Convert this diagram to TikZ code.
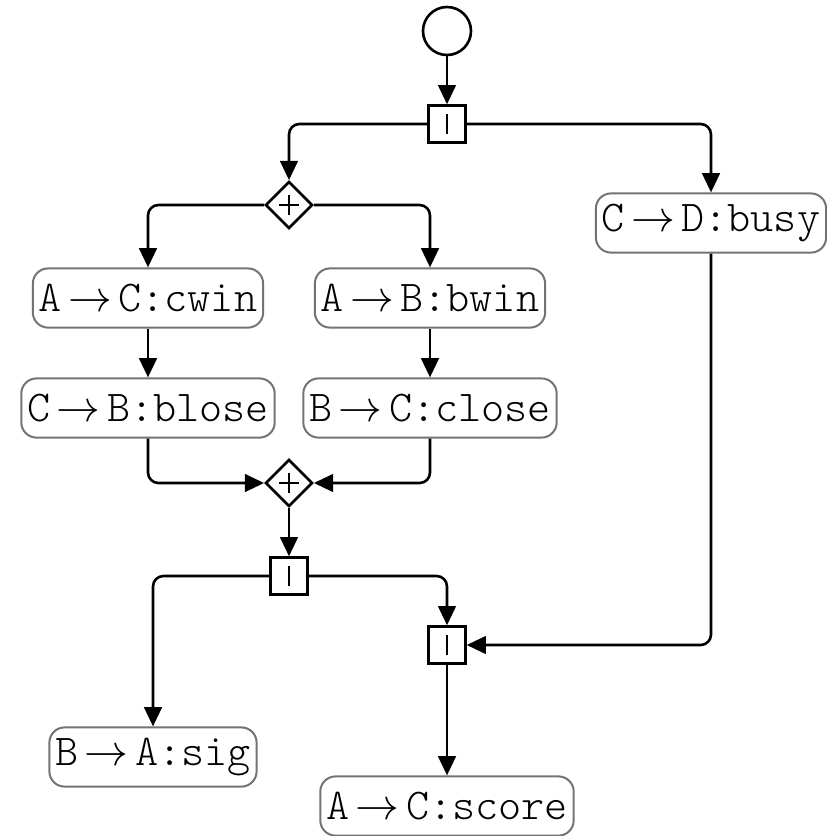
\documentclass[tikz,border=0pt]{standalone}
\usetikzlibrary{arrows.meta}
\usetikzlibrary{shapes.geometric}
\newcommand{\msg}[3]{\texttt{\fontseries{l}\selectfont #1\kern1.6pt\(\rightarrow\)\kern1.6pt#2:#3}}
\begin{document}
\begin{tikzpicture}[x=0.25pt, y=-0.25pt,
  flow/.style={draw=black, line width=0.65pt, rounded corners=2.6pt, arrows={-Triangle[length=4.8pt, width=4.4pt]}},
  act/.style={draw=black!55, line width=0.5pt, rounded corners=3.8pt, fill=white, inner xsep=1.5pt, inner ysep=0pt, minimum height=14.8pt, font=\fontsize{11}{13}\selectfont},
  xgate/.style={draw, line width=0.65pt, minimum size=9.2pt, inner sep=0pt,
    path picture={\draw[line width=0.65pt] ([yshift=-2.6pt]path picture bounding box.center) -- ++(0,5.2pt);}},
  pgate/.style={draw, diamond, line width=0.65pt, minimum width=11.8pt, minimum height=11.8pt, inner sep=0pt,
    path picture={\draw[line width=0.65pt] ([yshift=-2.5pt]path picture bounding box.center) -- ++(0,5pt)
      ([xshift=-2.5pt]path picture bounding box.center) -- ++(5pt,0);}}]
  \useasboundingbox (0,0) rectangle (826,836);
  \node[draw, circle, line width=0.65pt, minimum size=12pt, inner sep=0pt] (start) at (447,31) {};
  \node[xgate] (split) at (447,124) {};
  \node[pgate] (fork) at (289,205) {};
  \node[act] (cwin) at (148,298) {\msg{A}{C}{cwin}};
  \node[act] (bwin) at (430,298) {\msg{A}{B}{bwin}};
  \node[act] (blose) at (148,408) {\msg{C}{B}{blose}};
  \node[act] (close) at (430,408) {\msg{B}{C}{close}};
  \node[pgate] (join) at (289,483) {};
  \node[xgate] (choice) at (289,576) {};
  \node[act] (busy) at (711,223) {\msg{C}{D}{busy}};
  \node[xgate] (merge) at (447,645) {};
  \node[act] (sig) at (153,757) {\msg{B}{A}{sig}};
  \node[act] (score) at (447,806) {\msg{A}{C}{score}};

  \draw[flow] (start) -- (split);
  \draw[flow] (split.west) -| (fork.north);
  \draw[flow] (split.east) -| (busy.north);
  \draw[flow] (fork.west) -| (cwin.north);
  \draw[flow] (fork.east) -| (bwin.north);
  \draw[flow] (cwin) -- (blose);
  \draw[flow] (bwin) -- (close);
  \draw[flow] (blose.south) |- (join.west);
  \draw[flow] (close.south) |- (join.east);
  \draw[flow] (join) -- (choice);
  \draw[flow] (choice.west) -| (sig.north);
  \draw[flow] (choice.east) -| (merge.north);
  \draw[flow] (busy.south) |- (merge.east);
  \draw[flow] (merge) -- (score);
\end{tikzpicture}
\end{document}
